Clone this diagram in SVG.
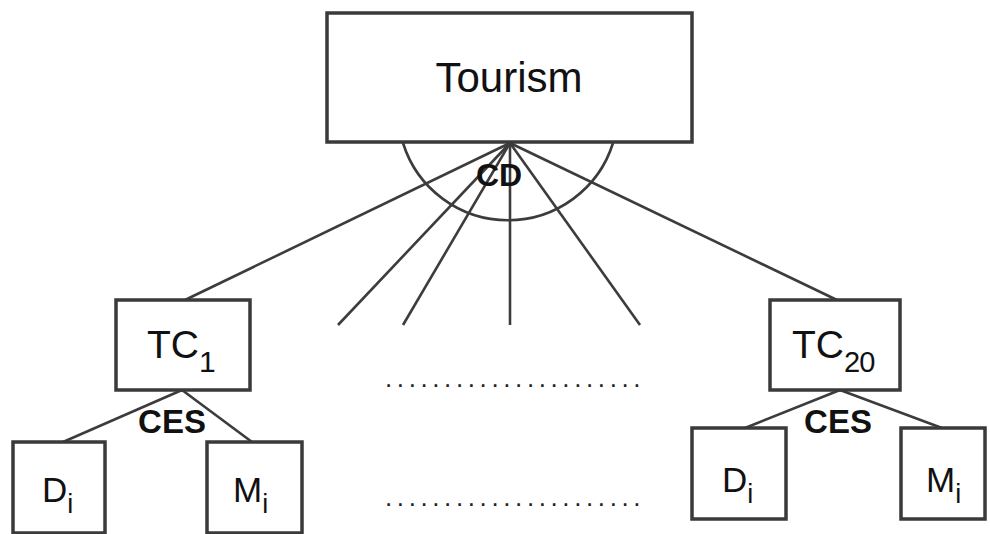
<svg xmlns="http://www.w3.org/2000/svg" width="990" height="534" viewBox="0 0 990 534">
<style>
.box{fill:#fff;stroke:#3a3a3a;stroke-width:3.5}
.ln{fill:none;stroke:#3c3c3c;stroke-width:2.6}
.t{font-family:"Liberation Sans",Arial,sans-serif;fill:#111}
.b{font-family:"Liberation Sans",Arial,sans-serif;font-weight:bold;fill:#111}
.dots{font-family:"Liberation Sans",Arial,sans-serif;font-size:26px;fill:#222;letter-spacing:4.6px}
</style>
<rect width="990" height="534" fill="#fff"/>
<g id="connectors">
<path class="ln" d="M403,143 A110,110 0 0 0 613,143"/>
<line class="ln" x1="510" y1="143" x2="185" y2="300"/>
<line class="ln" x1="510" y1="143" x2="338" y2="325"/>
<line class="ln" x1="510" y1="143" x2="403" y2="325"/>
<line class="ln" x1="510" y1="143" x2="510" y2="325"/>
<line class="ln" x1="510" y1="143" x2="640" y2="325"/>
<line class="ln" x1="510" y1="143" x2="837" y2="300"/>
<line class="ln" x1="182" y1="390" x2="63" y2="442"/>
<line class="ln" x1="182" y1="390" x2="252" y2="442"/>
<line class="ln" x1="840" y1="390" x2="745" y2="428"/>
<line class="ln" x1="840" y1="390" x2="942" y2="428"/>
<text class="b" x="499" y="186" font-size="32" text-anchor="middle">CD</text>
<text class="b" x="172" y="433" font-size="33" text-anchor="middle">CES</text>
<text class="b" x="838" y="433" font-size="33" text-anchor="middle">CES</text>
</g>
<g id="tourism">
<rect class="box" x="327" y="13" width="365" height="129"/>
<text class="t" x="509" y="92" font-size="42" text-anchor="middle">Tourism</text>
</g>
<g id="tc1">
<rect class="box" x="116" y="300" width="134" height="90"/>
<text class="t" x="147" y="358" font-size="39">TC<tspan font-size="30" dy="14">1</tspan></text>
</g>
<g id="tc20">
<rect class="box" x="770" y="300" width="130" height="90"/>
<text class="t" x="792" y="358" font-size="39">TC<tspan font-size="29" dy="14" letter-spacing="-1">20</tspan></text>
</g>
<g id="d-left">
<rect class="box" x="13" y="442" width="92" height="91"/>
<text class="t" x="42" y="502" font-size="35">D<tspan font-size="27" dy="11">i</tspan></text>
</g>
<g id="m-left">
<rect class="box" x="207" y="442" width="95" height="91"/>
<text class="t" x="233" y="502" font-size="35">M<tspan font-size="27" dy="11">i</tspan></text>
</g>
<g id="d-right">
<rect class="box" x="692" y="428" width="94" height="91"/>
<text class="t" x="722" y="492" font-size="35">D<tspan font-size="27" dy="11">i</tspan></text>
</g>
<g id="m-right">
<rect class="box" x="901" y="428" width="84" height="91"/>
<text class="t" x="926" y="492" font-size="35">M<tspan font-size="27" dy="11">i</tspan></text>
</g>
<text class="dots" x="385" y="387">......................</text>
<text class="dots" x="385" y="506">......................</text>
</svg>
